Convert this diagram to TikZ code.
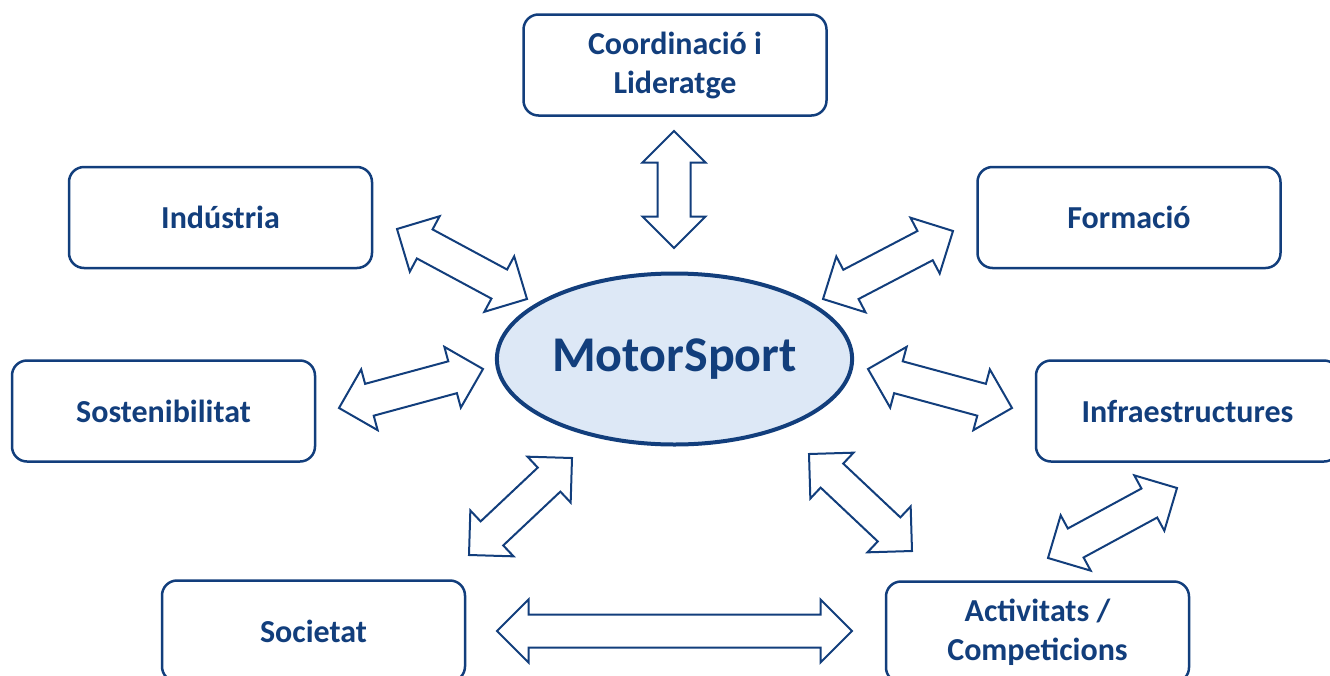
\documentclass[tikz,border=0pt]{standalone}
\usepackage{fontspec}
\setmainfont{Carlito}
\usetikzlibrary{calc,shapes.arrows,shapes.geometric}
\definecolor{motorblue}{RGB}{18,62,124}
\definecolor{motorfill}{RGB}{221,232,246}

\tikzset{
  area/.style={draw=motorblue,line width=2.5pt,rounded corners=15pt,
    minimum width=303pt,minimum height=101pt,align=center,text=motorblue,
    font=\fontsize{32}{39}\selectfont\bfseries},
  hub/.style={ellipse,draw=motorblue,fill=motorfill,line width=4pt,
    minimum width=352pt,minimum height=171pt,text=motorblue,
    font=\fontsize{50}{54}\selectfont\bfseries},
  blockarrow/.style={double arrow,draw=motorblue,line width=2pt,fill=white,
    inner xsep=0pt,inner ysep=15.5pt,double arrow head extend=15pt,
    double arrow tip angle=90,outer sep=0pt}
}

% double block arrow from #1 to #2
\newcommand{\dblarrow}[2]{%
  \path let \p1=($(#2)-(#1)$), \n1={atan2(\y1,\x1)}, \n2={veclen(\x1,\y1)} in
    node[blockarrow,minimum height=\n2,rotate=\n1] at ($(#1)!0.5!(#2)$) {};}

\begin{document}
\begin{tikzpicture}[x=1pt,y=-1pt]
  \useasboundingbox (0,0) rectangle (1330,675);
  \clip (0,0) rectangle (1330,675);

  % central hub
  \node[hub] (motor) at (674.5,359) {MotorSport};

  % areas round it
  \node[area] (coord) at (675,65)     {Coordinació i\\Lideratge};
  \node[area] (ind)   at (220.5,217.5) {Indústria};
  \node[area] (form)  at (1129,217.5)  {Formació};
  \node[area] (sost)  at (163.5,411)   {Sostenibilitat};
  \node[area] (infra) at (1187.5,411)  {Infraestructures};
  \node[area] (soc)   at (313.5,631)   {Societat};
  \node[area] (act)   at (1037.5,632)  {Activitats /\\Competicions};

  % arrow ends
  \coordinate (coord-a) at (674,131);  \coordinate (coord-b) at (674,248);
  \coordinate (ind-a)   at (397,229);  \coordinate (ind-b)   at (527,299);
  \coordinate (form-a)  at (823,299);  \coordinate (form-b)  at (953,231);
  \coordinate (sost-a)  at (339,408);  \coordinate (sost-b)  at (483,369);
  \coordinate (infra-a) at (868,369);  \coordinate (infra-b) at (1012,408);
  \coordinate (soc-a)   at (469,555);  \coordinate (soc-b)   at (572,458);
  \coordinate (act-a)   at (809,454);  \coordinate (act-b)   at (912,551);
  \coordinate (ia-a)    at (1048,558); \coordinate (ia-b)    at (1177,488);
  \coordinate (sa-a)    at (497,631);  \coordinate (sa-b)    at (852,631);

  \dblarrow{coord-a}{coord-b}
  \dblarrow{ind-a}{ind-b}
  \dblarrow{form-a}{form-b}
  \dblarrow{sost-a}{sost-b}
  \dblarrow{infra-a}{infra-b}
  \dblarrow{soc-a}{soc-b}
  \dblarrow{act-a}{act-b}
  \dblarrow{ia-a}{ia-b}
  \dblarrow{sa-a}{sa-b}
\end{tikzpicture}
\end{document}
